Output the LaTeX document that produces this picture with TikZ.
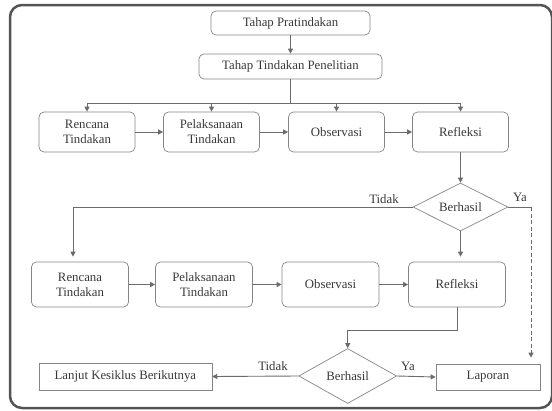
\documentclass[tikz,border=0pt]{standalone}
\usepackage{fontspec}
\setmainfont{Liberation Serif}
\usetikzlibrary{shapes.geometric,arrows.meta,positioning,calc}
\definecolor{framegray}{rgb}{0.33, 0.33, 0.33}
\definecolor{boxgray}{rgb}{0.52, 0.52, 0.52}
\definecolor{linegray}{rgb}{0.42, 0.42, 0.42}
\definecolor{textgray}{rgb}{0.22, 0.22, 0.22}
\tikzset{
  stage/.style={draw=boxgray, rounded corners=5pt, line width=0.7pt, text=textgray,
    align=center, inner sep=0pt, font=\fontsize{12.8}{15}\selectfont},
  plainbox/.style={stage, rounded corners=0pt},
  decision/.style={draw=boxgray, diamond, aspect=2, inner sep=1pt, line width=0.7pt,
    text=textgray, font=\fontsize{12.8}{15}\selectfont},
  flow/.style={draw=linegray, line width=0.9pt, -{Triangle[length=5pt,width=5pt]}},
  link/.style={draw=linegray, line width=0.9pt},
  lbl/.style={text=textgray, inner sep=0pt, font=\fontsize{12.8}{15}\selectfont}
}

\begin{document}
\begin{tikzpicture}[x=1pt, y=-1pt]
            \useasboundingbox (0,0) rectangle (552,410);
            \draw[framegray, line width=2.5pt, rounded corners=12pt] (10,5) rectangle (552,408);

            % 
            \node[stage, minimum width=159pt, minimum height=24pt] (pra) at (290.5,23) {Tahap Pratindakan};
            \node[stage, minimum width=183pt, minimum height=25pt] (tin) at (290.5,66.5) {Tahap Tindakan Penelitian};
            \coordinate (split) at (290.5,103);

            % siklus 1
            \node[stage, minimum width=96pt, minimum height=40pt] (ra) at (87,132) {Rencana\\Tindakan};
            \node[stage, minimum width=96pt, minimum height=40pt] (pa) at (211.5,132) {Pelaksanaan\\Tindakan};
            \node[stage, minimum width=96pt, minimum height=40pt] (oa) at (336.5,132) {Observasi};
            \node[stage, minimum width=96pt, minimum height=40pt] (fa) at (460.5,132) {Refleksi};
            \node[decision, minimum width=95pt, minimum height=48pt] (d1) at (460.5,207) {Berhasil};
            \coordinate (ya) at (531,207);

            % siklus 2
            \node[stage, minimum width=97pt, minimum height=45pt] (rb) at (80,284.5) {Rencana\\Tindakan};
            \node[stage, minimum width=97pt, minimum height=45pt] (pb) at (204,284.5) {Pelaksanaan\\Tindakan};
            \node[stage, minimum width=97pt, minimum height=45pt] (ob) at (330.5,284.5) {Observasi};
            \node[stage, minimum width=97pt, minimum height=45pt] (fb) at (457,284.5) {Refleksi};
            \node[decision, minimum width=98pt, minimum height=55pt] (d2) at (347.7,376) {Berhasil};

            \node[plainbox, minimum width=173pt, minimum height=27pt] (lanjut) at (125.4,376.5) {Lanjut Kesiklus Berikutnya};
            \node[plainbox, minimum width=104pt, minimum height=26pt] (lapor) at (488,377) {Laporan};

            % labels
            \node[lbl] (t1) at (384,199) {Tidak};
            \node[lbl] (y1) at (520,197) {Ya};
            \node[lbl] (t2) at (273,366) {Tidak};
            \node[lbl] (y2) at (408,366) {Ya};

            % Alur
            \draw[flow] (pra) -- (tin);
            \draw[link] (tin.south) -- (split);
            \draw[flow] (split) -| (ra.north);
            \draw[flow] (split) -| (pa.north);
            \draw[flow] (split) -| (oa.north);
            \draw[flow] (split) -| (fa.north);
            \draw[flow] (ra) -- (pa);
            \draw[flow] (pa) -- (oa);
            \draw[flow] (oa) -- (fa);
            \draw[flow] (fa) -- (d1);
            \draw[flow, shorten >=5pt] (d1.west) -| ([xshift=-7pt]rb.north);
            \draw[flow, shorten >=5pt] (d1.south) -- (d1.south |- fb.north);
            \draw[link] (d1.east) -- (ya);
            \draw[flow, dash pattern=on 4pt off 2.5pt, shorten >=6pt] (ya) -- (ya |- lapor.north);
            \draw[flow] (rb) -- (pb);
            \draw[flow] (pb) -- (ob);
            \draw[flow] (ob) -- (fb);
            \draw[flow] (fb.south) -- ++(0,23) -| (d2.north);
            \draw[flow] (d2.west) -- (lanjut.east);
            \draw[flow] (d2.east) -- (lapor.west);

\end{tikzpicture}
\end{document}
